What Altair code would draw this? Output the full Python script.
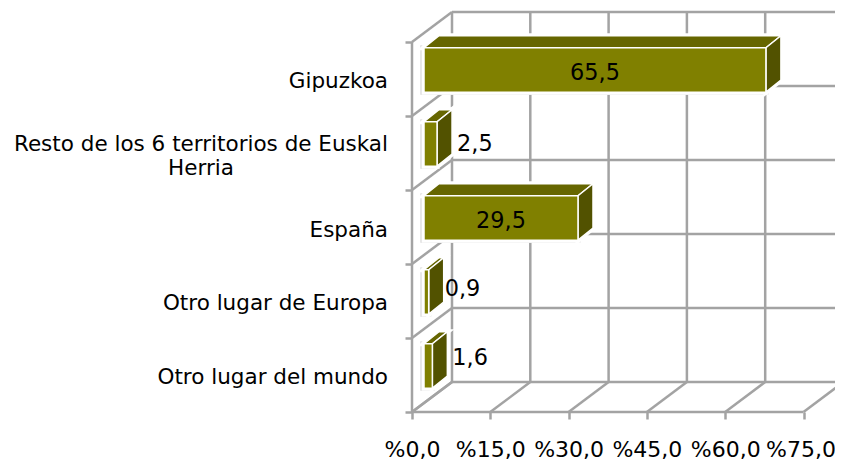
import altair as alt
import pandas as pd

categories = ["Gipuzkoa", "Resto de los 6 territorios de Euskal", "España", "Otro lugar de Europa", "Otro lugar del mundo"]
values = [65.5, 2.5, 29.5, 0.9, 1.6]
value_labels = ["65,5", "2,5", "29,5", "0,9", "1,6"]
x_ticks = [0, 15, 30, 45, 60, 75]
y_ticks = [0, 1, 2, 3, 4, 5]

# layout: pixel sizes of the pseudo-3D box, turned into data units
PX_X, PX_Y = 5.22, 74.0
W, H = 423, 400
DX, DY = 40 / PX_X, 30 / PX_Y          # wall depth
BX, BY = 12 / PX_X, 0.122              # bar front plane inside the box
BDX, BDY = 15 / PX_X, 12 / PX_Y        # bar depth
GRID, FONT = "#a3a3a3", "DejaVu Sans"
FS_CAT, FS_TICK, FS_VAL = 21.5, 22, 22.4
val_nudge_y = [-3 / PX_Y, 0, -3 / PX_Y, 3 / PX_Y, 8 / PX_Y]
val_nudge_x = [0, 0, 0, -4 / PX_X, 0]
cat_nudge_y = [-2 / PX_Y, 9 / PX_Y, -3 / PX_Y, -2 / PX_Y, -2 / PX_Y]

xs = alt.Scale(domain=[0, W / PX_X], range=[0, W], nice=False, zero=False)
ys = alt.Scale(domain=[0, H / PX_Y], range=[H, 0], nice=False, zero=False)
AX = alt.Axis(values=x_ticks, domain=False, grid=False, tickColor=GRID, tickWidth=2.5, tickSize=7,
              labelFont=FONT, labelFontSize=FS_TICK, labelColor="#000", labelPadding=20, labelOverlap=False,
              labelFlush=False, labelOffset=alt.expr("datum.value == 75 ? -3 : 0"),
              labelExpr="'%' + replace(format(datum.value, '.1f'), '.', ',')", title=None)
AY = alt.Axis(values=y_ticks, domain=False, grid=False, tickColor=GRID, tickWidth=2.5, tickSize=7,
              labels=False, title=None)
X = alt.X("x:Q", scale=xs, axis=AX)
Y = alt.Y("y:Q", scale=ys, axis=AY)

# walls and floor
lines = []
for t in x_ticks:
    lines.append(dict(x=t, y=0, x2=t + DX, y2=DY))
    lines.append(dict(x=t + DX, y=DY, x2=t + DX, y2=5 + DY))
for t in y_ticks:
    lines.append(dict(x=0, y=t, x2=DX, y2=t + DY))
    lines.append(dict(x=DX, y=t + DY, x2=W / PX_X, y2=t + DY))
lines.append(dict(x=0, y=0, x2=75, y2=0))
lines.append(dict(x=0, y=0, x2=0, y2=5))
grid = alt.Chart(pd.DataFrame(lines)).mark_rule(color=GRID, strokeWidth=2.5).encode(
    x=X, y=Y, x2="x2:Q", y2="y2:Q")

front, top, side, small = [], [], [], []
for i, (c, v) in enumerate(zip(categories, values)):
    r = 4 - i
    y0, y1 = r + BY + 0.2, r + BY + 0.8
    x0, x1 = BX, BX + v
    front.append(dict(x=x0, x2=x1, y=y0, y2=y1, k=i))
    top.append(dict(x=x0, x2=x1, y=y1, k=i))
    top.append(dict(x=x0 + BDX, x2=x1 + BDX, y=y1 + BDY, k=i))
    side.append(dict(x=x1, y=y0, y2=y1, k=i))
    side.append(dict(x=x1 + BDX, y=y0 + BDY, y2=y1 + BDY, k=i))
    small.append(dict(x=x1 + BDX + val_nudge_x[i], xc=(x0 + x1) / 2, y=(y0 + y1) / 2 + val_nudge_y[i],
                      t=value_labels[i], v=v, c=c, r=r + 0.48 + cat_nudge_y[i]))
front, top, side, info = map(pd.DataFrame, (front, top, side, small))


def faces(fill_front, fill_top, fill_side, stroke, sw):
    return [
        alt.Chart(top).mark_area(orient="horizontal", fill=fill_top, stroke=stroke, strokeWidth=sw).encode(
            x=X, x2="x2:Q", y=Y, detail="k:N"),
        alt.Chart(side).mark_area(orient="vertical", fill=fill_side, stroke=stroke, strokeWidth=sw).encode(
            x=X, y=Y, y2="y2:Q", detail="k:N"),
        alt.Chart(front).mark_rect(fill=fill_front, stroke=stroke, strokeWidth=sw).encode(
            x=X, x2="x2:Q", y=Y, y2="y2:Q"),
    ]


glow = alt.Chart(front).mark_rect(fill="#fff", stroke="#d0d0d0", strokeWidth=5, xOffset=-1).encode(
    x=X, x2="x2:Q", y=Y, y2="y2:Q")
halo = faces("#fff", "#fff", "#fff", "#fff", 5)
solid = faces("#808000", "#666600", "#525200", "#fff", 1.5)

big = info[info.v > 10]
tiny = info[info.v <= 10]
val = dict(font=FONT, fontSize=FS_VAL, color="#000")
txt = dict(font=FONT, fontSize=FS_CAT, color="#000")
lab_big = alt.Chart(big).mark_text(align="center", baseline="middle", **val).encode(
    x=alt.X("xc:Q", scale=xs, axis=AX), y=Y, text="t:N")
lab_tiny = alt.Chart(tiny).mark_text(align="left", baseline="middle", dx=5, **val).encode(
    x=X, y=Y, text="t:N")
cat = alt.Chart(info).mark_text(align="right", baseline="middle", dx=-24, **txt).encode(
    x=alt.datum(0, scale=xs, axis=AX), y=alt.Y("r:Q", scale=ys, axis=AY), text="c:N")
extra = alt.Chart(pd.DataFrame({"t": ["Herria"], "r": [3.278]})).mark_text(
    align="center", baseline="middle", dx=-211, **txt).encode(
    x=alt.datum(0, scale=xs, axis=AX), y=alt.Y("r:Q", scale=ys, axis=AY), text="t:N")

chart = alt.layer(
    grid, glow, *halo, *solid, lab_big, lab_tiny, cat, extra
).properties(
    width=W, height=H, autosize="none",
    padding={"left": 404, "top": 4, "right": 0, "bottom": 49},
).configure_view(stroke=None)

chart.save("out.html", embed_options={"renderer": "svg", "actions": False})
